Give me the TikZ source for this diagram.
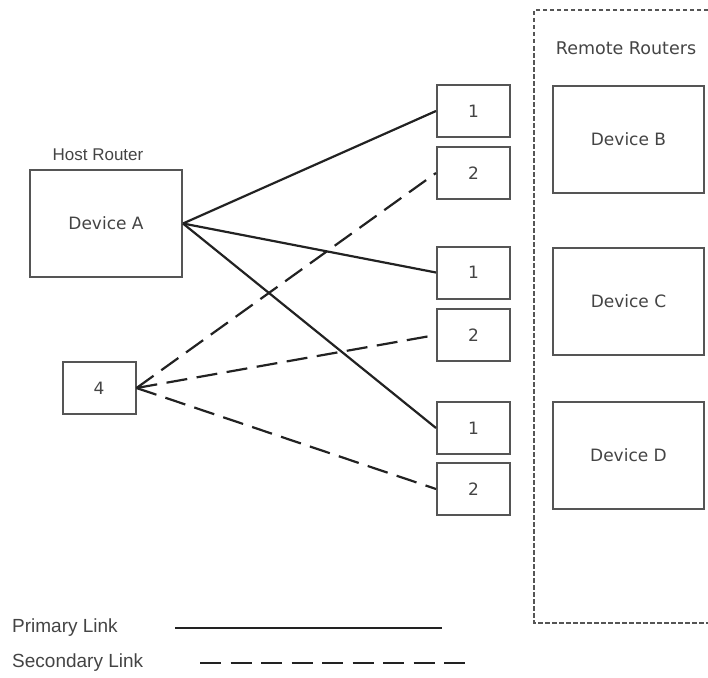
\documentclass[tikz,border=0pt]{standalone}
\usepackage{fontspec}
\setmainfont{DejaVu Sans}
\newfontfamily\arialf{Liberation Sans}
\usetikzlibrary{arrows.meta}
\definecolor{linec}{HTML}{222222}
\definecolor{boxc}{HTML}{555555}
\definecolor{txtc}{HTML}{444444}
\begin{document}
\begin{tikzpicture}[x=1pt,y=-1pt,
  box/.style={draw=boxc,line width=2pt,fill=white,inner sep=0pt,text=txtc,font=\fontsize{17}{20}\selectfont},
  bigbox/.style={box,minimum width=152pt,minimum height=107pt},
  smallbox/.style={box,minimum width=73pt,minimum height=52pt},
  lbl/.style={text=txtc,inner sep=0pt},
  primary/.style={draw=linec,line width=2.2pt},
  secondary/.style={draw=linec,line width=2.2pt,dash pattern=on 21pt off 9.5pt}
]
\useasboundingbox (0,0) rectangle (708,677);
% container
\draw[draw=boxc,line width=1.8pt,dash pattern=on 4.5pt off 2.5pt] (708,10) -- (534,10) -- (534,623) -- (708,623);
\node[lbl,font=\fontsize{17.5}{20}\selectfont] (rr) at (626,48) {Remote Routers};
\node[lbl,font=\arialf\fontsize{17}{20}\selectfont] (hr) at (98,155) {Host Router};
% devices
\node[bigbox] (A) at (106,223.5) {Device A};
\node[bigbox,minimum width=151pt] (B) at (628.5,139.5) {Device B};
\node[bigbox,minimum width=151pt] (C) at (628.5,301.5) {Device C};
\node[bigbox,minimum width=151pt] (D) at (628.5,455) {Device D};
\node[smallbox] (n4) at (99,388) {4};
\node[smallbox] (b1) at (473.5,111) {1};
\node[smallbox] (b2) at (473.5,173) {2};
\node[smallbox] (c1) at (473.5,272.5) {1};
\node[smallbox] (c2) at (473.5,335) {2};
\node[smallbox] (d1) at (473.5,428) {1};
\node[smallbox] (d2) at (473.5,489) {2};
% connectors
\draw[primary] (A.east) -- (b1.west);
\draw[primary] (A.east) -- (c1.west);
\draw[primary] (A.east) -- (d1.west);
\draw[secondary] (n4.east) -- (b2.west);
\draw[secondary] (n4.east) -- (c2.west);
\draw[secondary] (n4.east) -- (d2.west);
% legend
\node[lbl,anchor=west,font=\arialf\fontsize{19}{22}\selectfont] (pl) at (12,628) {Primary Link};
\node[lbl,anchor=west,font=\arialf\fontsize{19}{22}\selectfont] (sl) at (12,663) {Secondary Link};
\coordinate (p1) at (175,628);
\coordinate (p2) at (442,628);
\coordinate (s1) at (200,663);
\coordinate (s2) at (468,663);
\draw[primary] (p1) -- (p2);
\draw[secondary] (s1) -- (s2);
\end{tikzpicture}
\end{document}
